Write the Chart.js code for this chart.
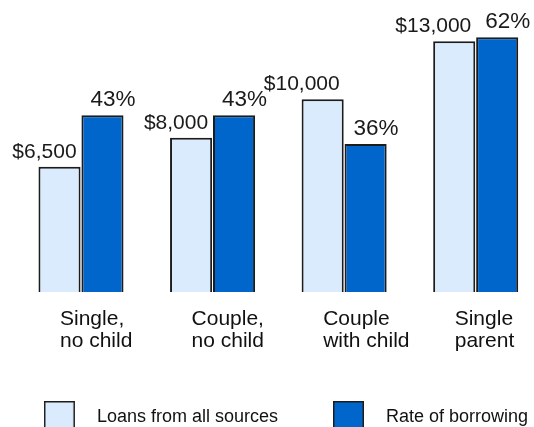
<!DOCTYPE html>
<html><head><meta charset="utf-8">
<script src="https://cdn.jsdelivr.net/npm/chart.js@4/dist/chart.umd.min.js"></script>
<style>html,body{margin:0;padding:0;background:#fff}#wrap{width:534px;height:427px}</style>
</head><body><div id="wrap"><canvas id="c" width="534" height="427"></canvas></div>
<script>
const categories = [['Single,', 'no child'], ['Couple,', 'no child'], ['Couple', 'with child'], ['Single', 'parent']];
const loanValues = [6500, 8000, 10000, 13000];
const borrowingRates = [43, 43, 36, 62];
const seriesNames = ['Loans from all sources', 'Rate of borrowing'];

const FONT = 'Liberation Sans, Arial, Helvetica, sans-serif';
const LIGHT = '#d9ebfc';
const DARK = '#0066cc';
const EDGE = '#1c1c1c';
Chart.defaults.font.family = FONT;
Chart.defaults.color = '#111';

function legendSwatch(fill) {
  const cv = document.createElement('canvas');
  cv.width = 44; cv.height = 32;
  const g = cv.getContext('2d');
  g.fillStyle = fill;
  g.fillRect(1, 1, 29, 30);
  g.strokeStyle = EDGE;
  g.lineWidth = 1.5;
  g.strokeRect(0.75, 0.75, 29.5, 30.5);
  return cv;
}

const valueLabels = {
  id: 'valueLabels',
  afterDatasetsDraw(chart) {
    const ctx = chart.ctx;
    chart.data.datasets.forEach((ds, di) => {
      const meta = chart.getDatasetMeta(di);
      meta.data.forEach((bar, i) => {
        const v = ds.data[i];
        ctx.save();
        ctx.fillStyle = '#1a1a1a';
        ctx.textBaseline = 'alphabetic';
        if (di === 0) {
          ctx.font = '21px ' + FONT;
          ctx.textAlign = 'right';
          ctx.fillText('$' + v.toLocaleString('en-US'), bar.x + bar.width / 2 - 4, bar.y - 9);
        } else {
          ctx.font = '22.5px ' + FONT;
          ctx.textAlign = 'left';
          ctx.fillText(v + '%', bar.x - bar.width / 2 + 9, bar.y - 9);
        }
        ctx.restore();
      });
    });
  }
};

const hiddenAxis = {
  display: true,
  ticks: { display: false },
  grid: { display: false, drawTicks: false },
  border: { display: false }
};

new Chart(document.getElementById('c'), {
  type: 'bar',
  data: {
    labels: categories,
    datasets: [
      { label: seriesNames[0], data: loanValues, yAxisID: 'yLoans', backgroundColor: LIGHT, borderColor: EDGE, borderWidth: 2, clip: false },
      { label: seriesNames[1], data: borrowingRates, yAxisID: 'yRate', backgroundColor: DARK, borderColor: EDGE, borderWidth: 2, clip: false }
    ]
  },
  options: {
    responsive: false,
    animation: false,
    categoryPercentage: 0.653,
    barPercentage: 0.98,
    layout: { padding: { top: 22, left: -22, right: -60, bottom: -9 } },
    plugins: {
      tooltip: { enabled: false },
      legend: {
        position: 'bottom',
        labels: {
          usePointStyle: true,
          pointStyleWidth: 44,
          padding: 55,
          color: '#111',
          font: { size: 18 },
          generateLabels(chart) {
            return chart.data.datasets.map((ds, i) => ({
              text: ds.label,
              pointStyle: legendSwatch(ds.backgroundColor),
              fillStyle: ds.backgroundColor,
              strokeStyle: EDGE,
              lineWidth: 0,
              hidden: false,
              datasetIndex: i,
              fontColor: '#111'
            }));
          }
        }
      }
    },
    scales: {
      x: {
        type: 'category',
        offset: false,
        grid: { display: false, drawTicks: false },
        border: { display: false },
        ticks: { align: 'start', labelOffset: -21, padding: 16, color: '#111', maxRotation: 0, autoSkip: false, font: { size: 21, lineHeight: 1.05 } },
        afterFit(s) { s.paddingLeft = 0; s.paddingRight = 0; s.height = 61; }
      },
      yLoans: Object.assign({}, hiddenAxis, { position: 'left', min: 0, max: 14000, afterFit(s) { s.width = 103; } }),
      yRate: Object.assign({}, hiddenAxis, { position: 'right', min: 0, max: 65.7, afterFit(s) { s.width = 118.3; } })
    }
  },
  plugins: [valueLabels]
});
</script>
</body></html>
